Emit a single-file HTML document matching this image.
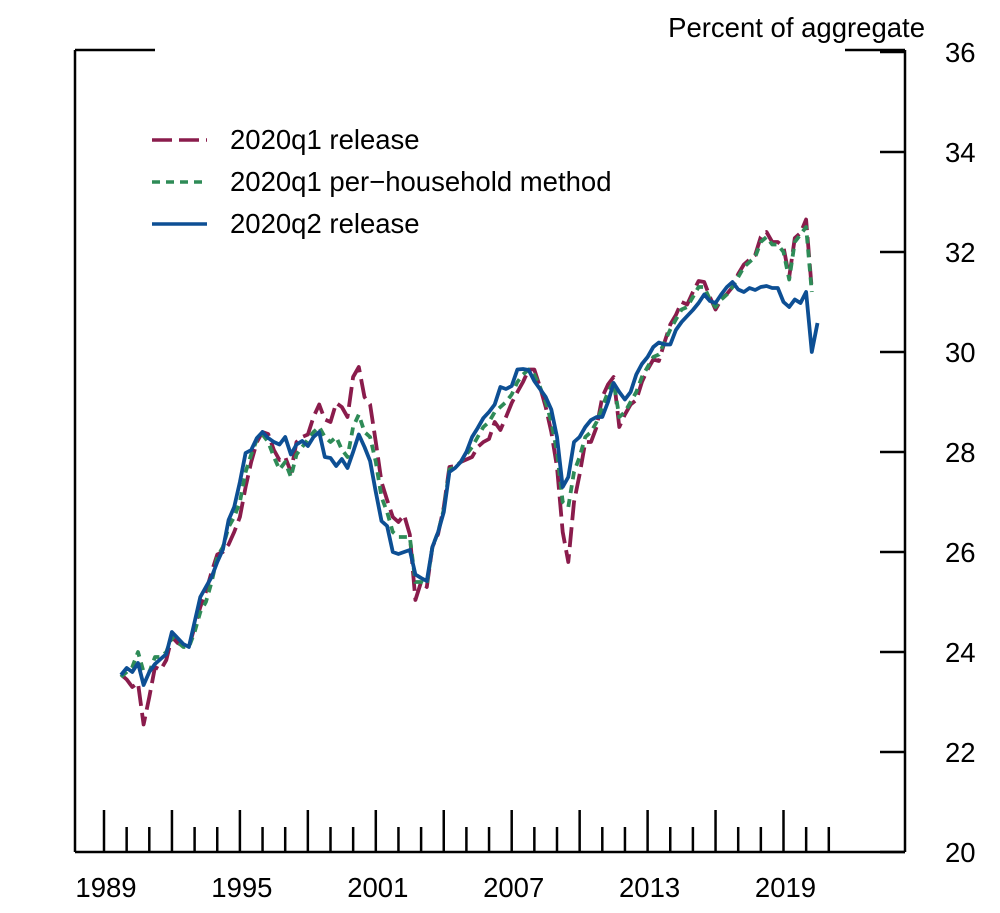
<!DOCTYPE html>
<html><head><meta charset="utf-8"><style>
html,body{margin:0;padding:0;background:#fff;}
svg{display:block;font-family:"Liberation Sans",Arial,sans-serif;}
</style></head><body>
<svg id="chart" width="1000" height="913" viewBox="0 0 1000 913">
<g id="frame" stroke="#000" stroke-width="2.5" fill="none">
<line x1="75" y1="50" x2="75" y2="852"/>
<line x1="905" y1="50" x2="905" y2="852"/>
<line x1="75" y1="852" x2="905" y2="852"/>
<line x1="75" y1="50" x2="155" y2="50"/>
<line x1="845" y1="50" x2="905" y2="50"/>
</g>
<text x="925" y="37" text-anchor="end" font-size="27.5">Percent of aggregate</text>
<g id="yaxis"></g>
<g id="xaxis"></g>
<g id="series"></g>
<g id="legend">
<line x1="152" y1="140" x2="207" y2="140" stroke="#8a1c4c" stroke-width="3.6" stroke-dasharray="20 7"/>
<text x="230" y="149" font-size="27.5">2020q1 release</text>
<line x1="152" y1="182" x2="207" y2="182" stroke="#2e8b57" stroke-width="3.6" stroke-dasharray="8 6"/>
<text x="230" y="191" font-size="27.5">2020q1 per−household method</text>
<line x1="152" y1="224" x2="207" y2="224" stroke="#0d4f94" stroke-width="3.6"/>
<text x="230" y="233" font-size="27.5">2020q2 release</text>
</g>
</svg>
<script>
const yTicks = [20,22,24,26,28,30,32,34,36];
const xTickYears = [1989,1990,1991,1992,1993,1994,1995,1996,1997,1998,1999,2000,2001,2002,2003,2004,2005,2006,2007,2008,2009,2010,2011,2012,2013,2014,2015,2016,2017,2018,2019,2020,2021];
const xLabelYears = [1989,1995,2001,2007,2013,2019];
const startYear = 1989, startQuarter = 3;
const release2020q2 = [23.54,23.68,23.6,23.78,23.34,23.6,23.76,23.86,23.96,24.4,24.28,24.16,24.1,24.6,25.1,25.3,25.5,25.8,26.05,26.64,26.9,27.4,27.98,28.04,28.28,28.4,28.28,28.2,28.15,28.3,27.95,28.15,28.22,28.12,28.3,28.4,27.9,27.88,27.72,27.86,27.68,28.0,28.35,28.1,27.82,27.2,26.62,26.52,26.0,25.96,26.0,26.04,25.55,25.48,25.42,26.1,26.4,26.8,27.6,27.68,27.8,28.0,28.3,28.48,28.68,28.8,28.95,29.3,29.26,29.32,29.65,29.66,29.64,29.42,29.26,29.1,28.85,28.3,27.3,27.5,28.2,28.3,28.5,28.64,28.7,28.7,29.0,29.38,29.2,29.05,29.2,29.55,29.76,29.9,30.1,30.19,30.15,30.15,30.44,30.6,30.72,30.84,30.98,31.15,31.02,30.98,31.15,31.3,31.4,31.25,31.2,31.28,31.24,31.3,31.32,31.28,31.28,31.0,30.9,31.05,30.98,31.2,30.0,30.58];
const release2020q1 = [23.55,23.45,23.3,23.38,22.55,23.1,23.7,23.64,23.84,24.3,24.18,24.12,24.1,24.5,24.9,25.2,25.6,25.95,26.0,26.15,26.4,26.7,27.3,27.8,28.2,28.4,28.36,28.04,27.84,27.9,27.6,28.2,28.3,28.35,28.7,28.95,28.65,28.6,28.98,28.9,28.7,29.5,29.7,29.1,28.95,28.2,27.4,27.04,26.7,26.6,26.74,26.35,25.04,25.4,25.3,26.1,26.36,26.9,27.7,27.72,27.8,27.85,27.9,28.1,28.2,28.26,28.6,28.44,28.7,28.98,29.2,29.4,29.65,29.65,29.3,28.9,28.4,27.7,26.4,25.8,27.0,27.55,28.2,28.2,28.5,29.1,29.35,29.5,28.5,28.75,28.95,29.04,29.4,29.65,29.85,29.82,30.2,30.55,30.74,31.0,30.95,31.2,31.42,31.4,31.1,30.85,31.05,31.16,31.3,31.56,31.75,31.85,31.94,32.3,32.4,32.2,32.2,32.1,31.5,32.28,32.38,32.65,31.25];
const perHousehold = [23.5,23.6,23.7,24.0,23.6,23.6,23.9,23.9,24.0,24.3,24.2,24.1,24.1,24.4,24.8,25.0,25.4,25.9,26.1,26.5,26.7,27.0,27.6,27.95,28.25,28.35,28.2,27.9,27.65,27.8,27.5,27.95,28.1,28.25,28.4,28.5,28.3,28.2,28.3,28.05,27.9,28.5,28.75,28.4,28.3,27.8,27.1,26.8,26.4,26.3,26.3,26.3,25.4,25.4,25.35,26.1,26.4,26.85,27.65,27.7,27.8,27.95,28.1,28.3,28.5,28.6,28.8,28.9,29.0,29.15,29.4,29.55,29.65,29.55,29.3,29.0,28.6,28.0,27.0,26.9,27.6,27.9,28.3,28.4,28.6,28.9,29.2,29.4,28.7,28.8,29.0,29.2,29.5,29.7,29.9,29.95,30.2,30.45,30.65,30.85,30.9,31.1,31.3,31.3,31.05,30.9,31.05,31.15,31.3,31.5,31.7,31.8,31.9,32.2,32.3,32.15,32.15,32.0,31.45,32.2,32.35,32.5,31.2];

const NS='http://www.w3.org/2000/svg';
function yScale(v){return 852-(v-20)*50;}
function xScale(t){return 104+(t-1989)*22.65;}
function qTime(i){const q=startQuarter-1+i;return startYear+Math.floor(q/4)+((q%4)+1)/4;}

const ya=document.getElementById('yaxis');
yTicks.forEach(v=>{
  const l=document.createElementNS(NS,'line');
  l.setAttribute('x1',880);l.setAttribute('x2',905);
  l.setAttribute('y1',yScale(v));l.setAttribute('y2',yScale(v));
  l.setAttribute('stroke','#000');l.setAttribute('stroke-width','2.5');
  
  
  ya.appendChild(l);
  const t=document.createElementNS(NS,'text');
  t.setAttribute('x',945);t.setAttribute('y',yScale(v)+10);
  t.setAttribute('font-size','27.5');
  t.textContent=v;
  
  
  ya.appendChild(t);
});
const xa=document.getElementById('xaxis');
xTickYears.forEach(y=>{
  const major=(y-1989)%3===0;
  const l=document.createElementNS(NS,'line');
  l.setAttribute('x1',xScale(y));l.setAttribute('x2',xScale(y));
  l.setAttribute('y1',major?810:827);l.setAttribute('y2',852);
  l.setAttribute('stroke','#000');l.setAttribute('stroke-width','2.5');
  
  
  xa.appendChild(l);
});
xLabelYears.forEach(y=>{
  const t=document.createElementNS(NS,'text');
  t.setAttribute('x',xScale(y)+2);t.setAttribute('y',897);
  t.setAttribute('text-anchor','middle');t.setAttribute('font-size','27.5');
  t.textContent=y;
  
  
  xa.appendChild(t);
});
const sg=document.getElementById('series');
function drawLine(vals,color,dash,name){
  const p=document.createElementNS(NS,'polyline');
  p.setAttribute('points',vals.map((v,i)=>xScale(qTime(i)).toFixed(1)+','+yScale(v).toFixed(1)).join(' '));
  p.setAttribute('fill','none');p.setAttribute('stroke',color);
  p.setAttribute('stroke-width','3.8');p.setAttribute('stroke-linejoin','round');
  if(dash)p.setAttribute('stroke-dasharray',dash);
  
  
  sg.appendChild(p);
}
drawLine(release2020q1,'#8a1c4c','20 7','line-2020q1-release');
drawLine(perHousehold,'#2e8b57','8 6','line-per-household-method');
drawLine(release2020q2,'#0d4f94',null,'line-2020q2-release');
</script>
</body></html>
